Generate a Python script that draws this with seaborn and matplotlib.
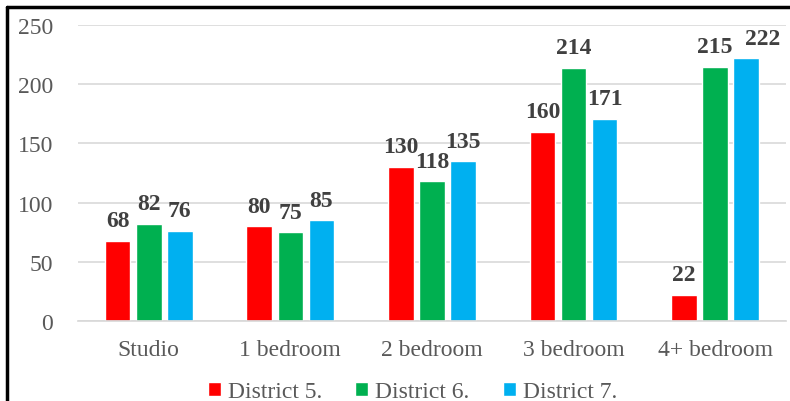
import numpy as np
import pandas as pd
import matplotlib
matplotlib.use("Agg")
import matplotlib.pyplot as plt
from matplotlib.lines import Line2D
import seaborn as sns

categorias = ["Studio", "1 bedroom", "2 bedroom", "3 bedroom", "4+ bedroom"]
distritos = ["District 5.", "District 6.", "District 7."]
district_5 = [68, 80, 130, 160, 22]
district_6 = [82, 75, 118, 214, 215]
district_7 = [76, 85, 135, 171, 222]
colores = ["#FF0000", "#00B050", "#00B0F0"]

df = pd.DataFrame({
    "categoria": categorias * 3,
    "distrito": np.repeat(distritos, len(categorias)),
    "valor": district_5 + district_6 + district_7,
})

sns.set_theme(style="white")
plt.rcParams["font.family"] = ["Liberation Serif", "DejaVu Serif"]

fig = plt.figure(figsize=(7.9, 4.02), dpi=100)
ax = fig.add_axes([0.0987, 0.199, 0.896, 0.736])

sns.barplot(data=df, x="categoria", y="valor", hue="distrito",
            palette=colores, width=0.66, gap=0.18, ax=ax, saturation=1)

etiquetas = []
for cont in ax.containers:
    etiquetas.append(ax.bar_label(cont, fmt="%d", padding=7, fontsize=17,
                                  fontweight="bold", color="#404040"))
# la etiqueta 222 va desplazada a la derecha para no pisar a 215
etiquetas[2][-1].xyann = (12, 7)

ax.set_ylim(0, 250)
ax.set_yticks(range(0, 251, 50))
ax.yaxis.grid(True, color="#D9D9D9", linewidth=1.2)
ax.set_axisbelow(True)
ax.set_xlabel("")
ax.set_ylabel("")
for s in ["top", "right", "left"]:
    ax.spines[s].set_visible(False)
ax.spines["bottom"].set_color("#D9D9D9")
ax.tick_params(axis="both", length=0, labelsize=17, colors="#595959")
ax.tick_params(axis="y", pad=18)
ax.tick_params(axis="x", pad=13)

ax.legend(loc="center", bbox_to_anchor=(0.522, 9 / 402),
          bbox_transform=fig.transFigure, ncol=3, frameon=False,
          fontsize=17, handlelength=0.55, handleheight=0.55, handletextpad=0.3,
          columnspacing=1.4, labelcolor="#595959", borderpad=0)

# marco de la figura (arriba e izquierda)
fig.add_artist(Line2D([7 / 790, 1], [1 - 8 / 402, 1 - 8 / 402],
                      transform=fig.transFigure, color="black", linewidth=2.5))
fig.add_artist(Line2D([7 / 790, 7 / 790], [0, 1 - 8 / 402],
                      transform=fig.transFigure, color="black", linewidth=2.5))

fig.savefig("out.png", dpi=100)
